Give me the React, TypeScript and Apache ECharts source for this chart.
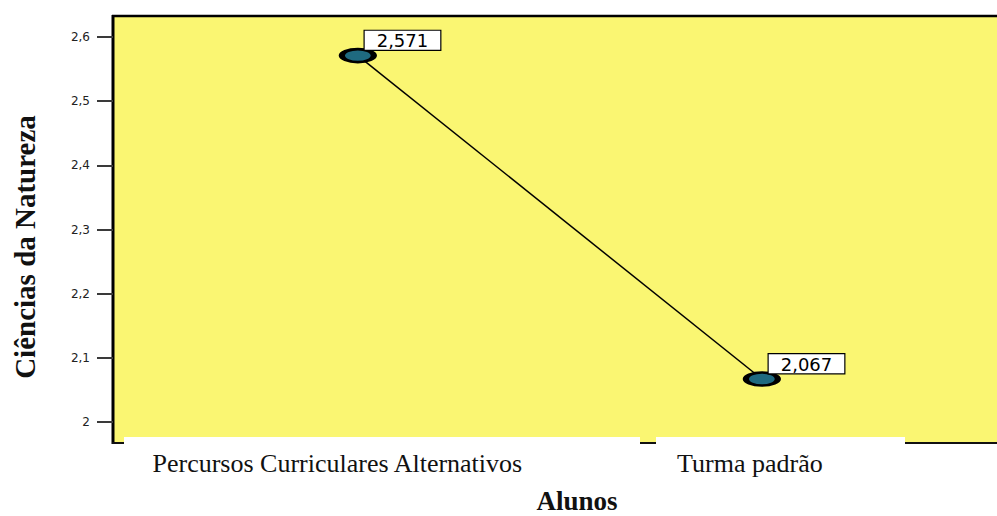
import React, { useEffect, useRef } from "react";
import * as echarts from "echarts";

const categories = ["Percursos Curriculares Alternativos", "Turma padrão"];
const means = [2.571, 2.067];
const xPositions = [1, 2];
const yTickValues = [2, 2.1, 2.2, 2.3, 2.4, 2.5, 2.6];
const xTitle = "Alunos";
const yTitle = "Ciências da Natureza";

const fmtComma = (v: number, d: number) => v.toFixed(d).replace(".", ",");
const fmtTick = (v: number) => String(Math.round(v * 10) / 10).replace(".", ",");

const SERIF = '"Liberation Serif", "Times New Roman", serif';
const SANS = '"DejaVu Sans", Arial, sans-serif';

export default function App() {
  const ref = useRef<HTMLDivElement>(null);
  useEffect(() => {
    if (!ref.current) return;
    const chart = echarts.init(ref.current, null, { renderer: "svg" });
    const option: any = {
      animation: false,
      backgroundColor: "#ffffff",
      grid: { left: 113, right: 0, top: 37, bottom: 94, containLabel: false },
      xAxis: {
        type: "value",
        min: 0.394,
        max: 2.582,
        z: 5,
        axisLine: { show: false },
        axisTick: { show: false },
        splitLine: { show: false },
        axisLabel: {
          customValues: xPositions,
          margin: 28,
          formatter: (v: number) => {
            const i = xPositions.indexOf(Math.round(v));
            return i === 0 ? `{a|${categories[0]}}` : `{b|${categories[i]}}`;
          },
          rich: {
            a: { fontFamily: SERIF, fontSize: 26, lineHeight: 26, color: "#111", padding: [0, 41, 0, 0] },
            b: { fontFamily: SERIF, fontSize: 26, lineHeight: 26, color: "#111", padding: [0, 24, 0, 0] },
          },
        },
      },
      yAxis: {
        type: "value",
        min: yTickValues[0],
        max: yTickValues[yTickValues.length - 1],
        interval: 0.1,
        z: 5,
        axisLine: { show: false },
        splitLine: { show: false },
        axisTick: {
          show: true,
          length: 16,
          lineStyle: { color: "#3a3a3a", width: 2 },
        },
        axisLabel: {
          margin: 23,
          fontFamily: SANS,
          fontSize: 12,
          color: "#222",
          formatter: (v: number) => fmtTick(v),
        },
      },
      graphic: [
        { type: "rect", z: -10, shape: { x: 113, y: 16, width: 884, height: 427 }, style: { fill: "#FAF672" }, silent: true },
        { type: "line", z: 1, shape: { x1: 113, y1: 15, x2: 113, y2: 444 }, style: { stroke: "#000", lineWidth: 3 }, silent: true },
        { type: "line", z: 1, shape: { x1: 112, y1: 16, x2: 997, y2: 16 }, style: { stroke: "#000", lineWidth: 2.5 }, silent: true },
        { type: "line", z: 1, shape: { x1: 112, y1: 443, x2: 997, y2: 443 }, style: { stroke: "#111", lineWidth: 2 }, silent: true },
        { type: "rect", z: 2, shape: { x: 124, y: 437, width: 516, height: 10 }, style: { fill: "#fff" }, silent: true },
        { type: "rect", z: 2, shape: { x: 656, y: 437, width: 249, height: 10 }, style: { fill: "#fff" }, silent: true },
        {
          type: "text", z: 5, x: 25, y: 247, rotation: Math.PI / 2,
          style: { text: yTitle, font: `bold 29px ${SERIF}`, fill: "#111", align: "center", verticalAlign: "middle" },
        },
        {
          type: "text", z: 5, x: 577, y: 501,
          style: { text: xTitle, font: `bold 27px ${SERIF}`, fill: "#111", align: "center", verticalAlign: "middle" },
        },
      ],
      series: [
        {
          type: "line",
          z: 3,
          data: xPositions.map((x, i) => [x, means[i]]),
          symbol: "path://M0,50A50,50 0 1,1 100,50A50,50 0 1,1 0,50Z",
          symbolSize: [32, 13],
          itemStyle: { color: "#1f6a80", borderColor: "#000", borderWidth: 4 },
          lineStyle: { color: "#000", width: 1.5 },
          label: {
            show: true,
            position: [26, -17],
            formatter: (p: any) => fmtComma(p.value[1], 3),
            backgroundColor: "#fff",
            borderColor: "#000",
            borderWidth: 1.2,
            padding: [1, 12, 0, 12],
            fontFamily: SANS,
            fontSize: 18,
            color: "#000",
          },
        },
      ],
    };
    chart.setOption(option);
    return () => chart.dispose();
  }, []);
  return <div ref={ref} style={{ width: 997, height: 516, position: "absolute", left: 0, top: 0 }} />;
}
